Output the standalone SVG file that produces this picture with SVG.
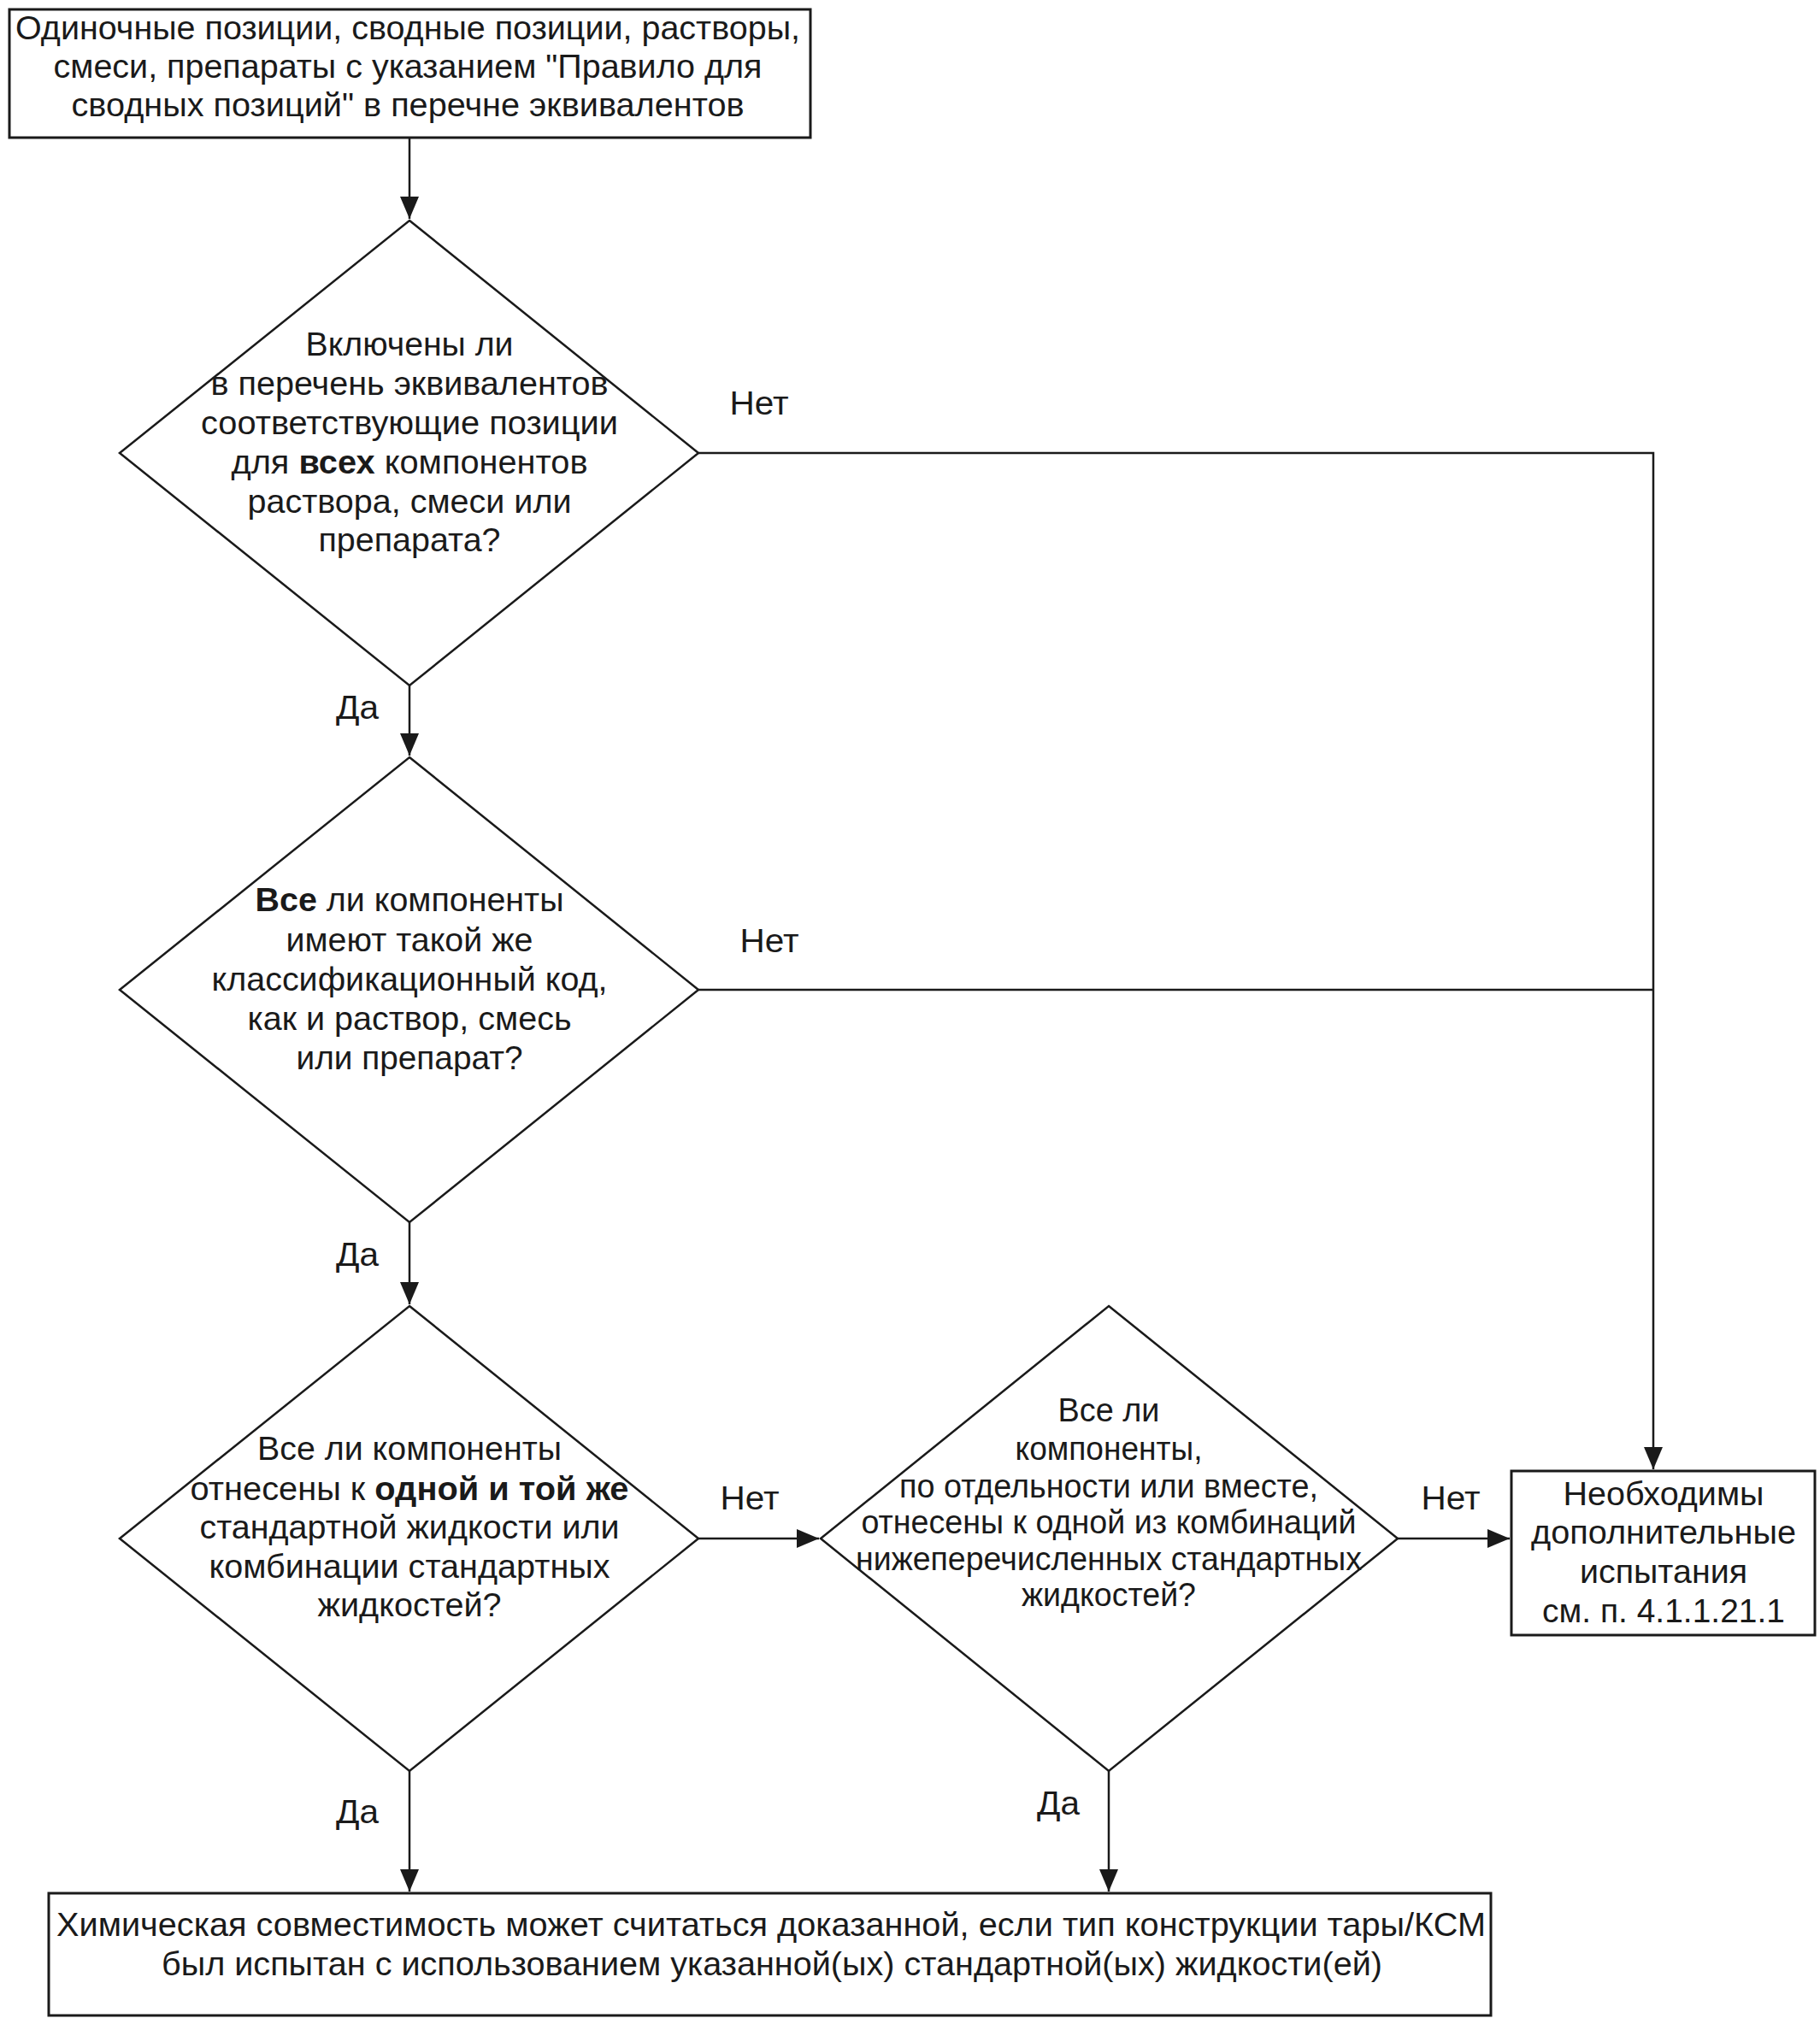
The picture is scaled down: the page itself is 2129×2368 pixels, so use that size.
<svg xmlns="http://www.w3.org/2000/svg" width="2129" height="2368" viewBox="0 0 2129 2368">
<style>
.bg{fill:#ffffff}
.box{fill:#ffffff;stroke:#1a1a1a;stroke-width:3}
.dia{fill:#ffffff;stroke:#1a1a1a;stroke-width:2.5}
.edge{fill:none;stroke:#1a1a1a;stroke-width:2.5}
text{font-family:"Liberation Sans",Arial,sans-serif;font-size:39px;fill:#1a1a1a;text-anchor:middle}
.b{font-weight:bold}
</style>
<defs>
<marker id="arr" markerUnits="userSpaceOnUse" markerWidth="28" markerHeight="22" refX="26" refY="11" orient="auto">
<path d="M0,0 L26,11 L0,22 Z" fill="#1a1a1a"/>
</marker>
</defs>
<rect class="bg" x="0" y="0" width="2129" height="2368"/>

<g id="connectors">
<path class="edge" d="M479,161 L479,256" marker-end="url(#arr)"/>
<path class="edge" d="M479,802 L479,884" marker-end="url(#arr)"/>
<path class="edge" d="M479,1430 L479,1526" marker-end="url(#arr)"/>
<path class="edge" d="M817,1800 L958,1800" marker-end="url(#arr)"/>
<path class="edge" d="M1635,1800 L1766,1800" marker-end="url(#arr)"/>
<path class="edge" d="M817,530 L1934,530 L1934,1719" marker-end="url(#arr)"/>
<path class="edge" d="M817,1158 L1934,1158"/>
<path class="edge" d="M479,2072 L479,2213" marker-end="url(#arr)"/>
<path class="edge" d="M1297,2072 L1297,2213" marker-end="url(#arr)"/>
<text x="888" y="485" textLength="69" lengthAdjust="spacingAndGlyphs">Нет</text>
<text x="900" y="1114" textLength="69" lengthAdjust="spacingAndGlyphs">Нет</text>
<text x="877" y="1766" textLength="69" lengthAdjust="spacingAndGlyphs">Нет</text>
<text x="1697" y="1766" textLength="69" lengthAdjust="spacingAndGlyphs">Нет</text>
<text x="418" y="841" textLength="50" lengthAdjust="spacingAndGlyphs">Да</text>
<text x="418" y="1481" textLength="50" lengthAdjust="spacingAndGlyphs">Да</text>
<text x="418" y="2133" textLength="50" lengthAdjust="spacingAndGlyphs">Да</text>
<text x="1238" y="2123" textLength="50" lengthAdjust="spacingAndGlyphs">Да</text>
</g>

<g id="start">
<rect class="box" x="11" y="11" width="937" height="150"/>
<text x="477" y="46" textLength="918" lengthAdjust="spacingAndGlyphs">Одиночные позиции, сводные позиции, растворы,</text>
<text x="477" y="91" textLength="829" lengthAdjust="spacingAndGlyphs">смеси, препараты с указанием "Правило для</text>
<text x="477" y="136" textLength="787" lengthAdjust="spacingAndGlyphs">сводных позиций" в перечне эквивалентов</text>
</g>

<g id="decision1">
<polygon class="dia" points="479,258 817,530 479,802 140,530"/>
<text x="479" y="416" textLength="243" lengthAdjust="spacingAndGlyphs">Включены ли</text>
<text x="479" y="462" textLength="465" lengthAdjust="spacingAndGlyphs">в перечень эквивалентов</text>
<text x="479" y="508" textLength="488" lengthAdjust="spacingAndGlyphs">соответствующие позиции</text>
<text x="479" y="554" textLength="417" lengthAdjust="spacingAndGlyphs">для <tspan class="b">всех</tspan> компонентов</text>
<text x="479" y="600" textLength="379" lengthAdjust="spacingAndGlyphs">раствора, смеси или</text>
<text x="479" y="645" textLength="213" lengthAdjust="spacingAndGlyphs">препарата?</text>
</g>

<g id="decision2">
<polygon class="dia" points="479,886 817,1158 479,1430 140,1158"/>
<text x="479" y="1066" textLength="361" lengthAdjust="spacingAndGlyphs"><tspan class="b">Все</tspan> ли компоненты</text>
<text x="479" y="1113" textLength="289" lengthAdjust="spacingAndGlyphs">имеют такой же</text>
<text x="479" y="1159" textLength="463" lengthAdjust="spacingAndGlyphs">классификационный код,</text>
<text x="479" y="1205" textLength="379" lengthAdjust="spacingAndGlyphs">как и раствор, смесь</text>
<text x="479" y="1251" textLength="265" lengthAdjust="spacingAndGlyphs">или препарат?</text>
</g>

<g id="decision3">
<polygon class="dia" points="479,1528 817,1800 479,2072 140,1800"/>
<text x="479" y="1708" textLength="356" lengthAdjust="spacingAndGlyphs">Все ли компоненты</text>
<text x="479" y="1755" textLength="513" lengthAdjust="spacingAndGlyphs">отнесены к <tspan class="b">одной и той же</tspan></text>
<text x="479" y="1800" textLength="491" lengthAdjust="spacingAndGlyphs">стандартной жидкости или</text>
<text x="479" y="1846" textLength="469" lengthAdjust="spacingAndGlyphs">комбинации стандартных</text>
<text x="479" y="1891" textLength="215" lengthAdjust="spacingAndGlyphs">жидкостей?</text>
</g>

<g id="decision4">
<polygon class="dia" points="1297,1528 1635,1800 1297,2072 960,1800"/>
<text x="1297" y="1663" textLength="119" lengthAdjust="spacingAndGlyphs">Все ли</text>
<text x="1297" y="1708" textLength="219" lengthAdjust="spacingAndGlyphs">компоненты,</text>
<text x="1297" y="1752" textLength="490" lengthAdjust="spacingAndGlyphs">по отдельности или вместе,</text>
<text x="1297" y="1794" textLength="579" lengthAdjust="spacingAndGlyphs">отнесены к одной из комбинаций</text>
<text x="1297" y="1837" textLength="592" lengthAdjust="spacingAndGlyphs">нижеперечисленных стандартных</text>
<text x="1297" y="1879" textLength="204" lengthAdjust="spacingAndGlyphs">жидкостей?</text>
</g>

<g id="tests">
<rect class="box" x="1768" y="1721" width="355" height="192"/>
<text x="1946" y="1761" textLength="235" lengthAdjust="spacingAndGlyphs">Необходимы</text>
<text x="1946" y="1806" textLength="310" lengthAdjust="spacingAndGlyphs">дополнительные</text>
<text x="1946" y="1852" textLength="196" lengthAdjust="spacingAndGlyphs">испытания</text>
<text x="1946" y="1898" textLength="284" lengthAdjust="spacingAndGlyphs">см. п. 4.1.1.21.1</text>
</g>

<g id="result">
<rect class="box" x="57" y="2215" width="1687" height="143"/>
<text x="902" y="2265" textLength="1672" lengthAdjust="spacingAndGlyphs">Химическая совместимость может считаться доказанной, если тип конструкции тары/КСМ</text>
<text x="903" y="2311" textLength="1428" lengthAdjust="spacingAndGlyphs">был испытан с использованием указанной(ых) стандартной(ых) жидкости(ей)</text>
</g>
</svg>
